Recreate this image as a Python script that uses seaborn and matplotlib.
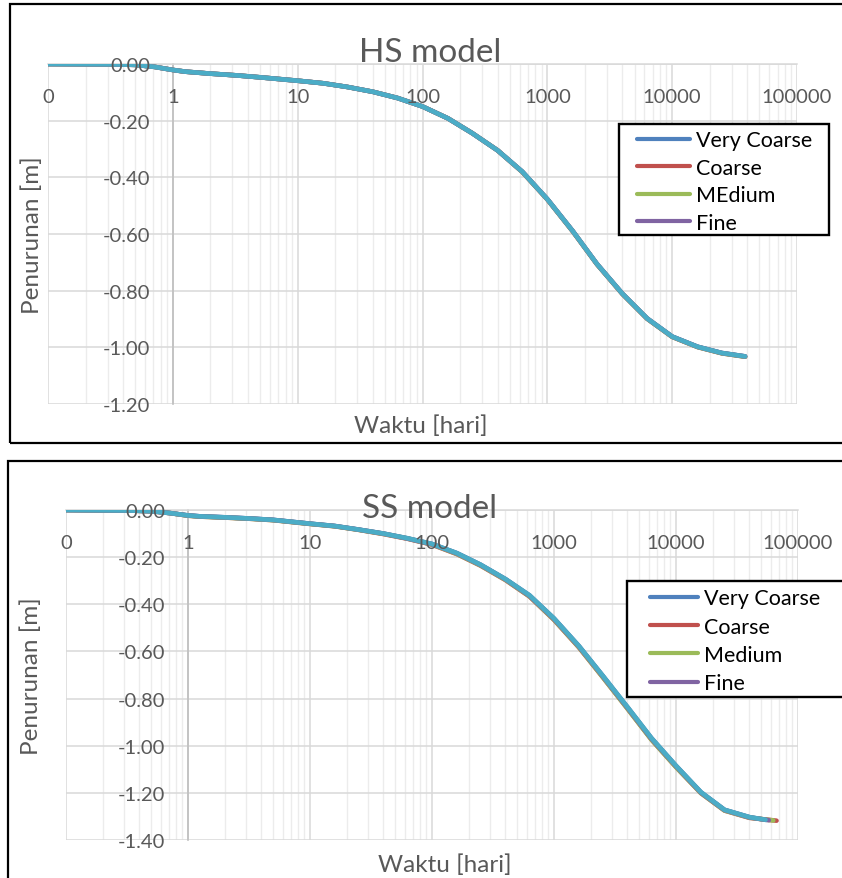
import matplotlib
matplotlib.use("Agg")
import matplotlib.pyplot as plt
import seaborn as sns
import pandas as pd
from matplotlib.lines import Line2D
from matplotlib.patches import Rectangle
from matplotlib.ticker import FixedLocator, LogLocator, NullFormatter
from matplotlib.legend_handler import HandlerLine2D

# ---------------- data ----------------
mesh_names = ["Very Coarse", "Coarse", "Medium", "Fine", "Very Fine"]
mesh_colors = ["#4F81BD", "#C0504D", "#9BBB59", "#8064A2", "#4BACC6"]
hs_legend_labels = ["Very Coarse", "Coarse", "MEdium", "Fine"]
ss_legend_labels = ["Very Coarse", "Coarse", "Medium", "Fine"]

x_tick_values = [0.1, 1, 10, 100, 1000, 10000, 100000]
x_tick_labels = ["0", "1", "10", "100", "1000", "10000", "100000"]
hs_y_ticks = [0.0, -0.2, -0.4, -0.6, -0.8, -1.0, -1.2]
hs_y_labels = ["0.00", "-0.20", "-0.40", "-0.60", "-0.80", "-1.00", "-1.20"]
ss_y_ticks = [0.0, -0.2, -0.4, -0.6, -0.8, -1.0, -1.2, -1.4]
ss_y_labels = ["0.00", "-0.20", "-0.40", "-0.60", "-0.80", "-1.00", "-1.20", "-1.40"]

# HS model: time [days], settlement [m]
hs_time = [0.1, 0.32, 0.5, 0.71, 1, 1.26, 2, 3.2, 5, 10, 16, 25, 40, 63, 100, 160, 250, 400,
           630, 1000, 1600, 2500, 4000, 6300, 10000, 16000, 25000, 38400]
hs_very_coarse = [0, -0.001, -0.003, -0.010, -0.021, -0.027, -0.034, -0.040, -0.047, -0.059,
                  -0.068, -0.081, -0.098, -0.120, -0.150, -0.192, -0.244, -0.305, -0.380, -0.477,
                  -0.590, -0.706, -0.811, -0.898, -0.962, -0.998, -1.020, -1.032]
hs_coarse = [0, -0.001, -0.003, -0.010, -0.021, -0.027, -0.034, -0.040, -0.047, -0.059,
             -0.068, -0.081, -0.098, -0.120, -0.150, -0.192, -0.244, -0.305, -0.381, -0.478,
             -0.591, -0.707, -0.812, -0.899, -0.963, -0.999, -1.021, -1.033]
hs_medium = [0, -0.001, -0.003, -0.010, -0.021, -0.027, -0.034, -0.040, -0.047, -0.059,
             -0.068, -0.081, -0.098, -0.120, -0.150, -0.192, -0.244, -0.305, -0.381, -0.478,
             -0.591, -0.707, -0.812, -0.899, -0.963, -0.999, -1.021, -1.033]
hs_fine = [0, -0.001, -0.003, -0.010, -0.021, -0.027, -0.034, -0.040, -0.047, -0.059,
           -0.068, -0.081, -0.098, -0.120, -0.150, -0.192, -0.244, -0.305, -0.380, -0.477,
           -0.590, -0.706, -0.811, -0.898, -0.962, -0.998, -1.020, -1.032]
hs_very_fine = [0, -0.001, -0.003, -0.010, -0.021, -0.027, -0.034, -0.040, -0.047, -0.059,
                -0.068, -0.081, -0.098, -0.120, -0.150, -0.192, -0.244, -0.305, -0.380, -0.477,
                -0.590, -0.706, -0.811, -0.898, -0.962, -0.998, -1.020, -1.032]

# SS model: time [days] (shared part + individual last time), settlement [m]
ss_time_base = [0.1, 0.32, 0.5, 0.71, 1, 1.26, 2, 3.2, 5, 10, 16, 25, 40, 63, 100, 160, 250, 400,
                630, 1000, 1600, 2500, 4000, 6300, 10000, 16000, 25000, 40000]
ss_end_time = [55000, 66700, 62700, 57700, 54200]
ss_very_coarse = [0, -0.002, -0.005, -0.013, -0.023, -0.027, -0.031, -0.036, -0.042, -0.058,
                  -0.068, -0.083, -0.100, -0.120, -0.144, -0.183, -0.232, -0.293, -0.362, -0.460,
                  -0.577, -0.702, -0.836, -0.968, -1.085, -1.197, -1.272, -1.303, -1.315]
ss_coarse = [0, -0.002, -0.005, -0.013, -0.024, -0.028, -0.032, -0.037, -0.043, -0.059,
             -0.069, -0.084, -0.102, -0.122, -0.147, -0.187, -0.236, -0.297, -0.367, -0.466,
             -0.583, -0.708, -0.842, -0.974, -1.090, -1.201, -1.275, -1.306, -1.318]
ss_medium = [0, -0.002, -0.005, -0.013, -0.024, -0.028, -0.032, -0.037, -0.043, -0.059,
             -0.069, -0.084, -0.101, -0.121, -0.146, -0.186, -0.235, -0.296, -0.366, -0.465,
             -0.582, -0.708, -0.843, -0.975, -1.091, -1.201, -1.275, -1.305, -1.317]
ss_fine = [0, -0.002, -0.005, -0.013, -0.023, -0.027, -0.031, -0.036, -0.042, -0.058,
           -0.068, -0.083, -0.100, -0.121, -0.145, -0.184, -0.233, -0.294, -0.364, -0.462,
           -0.579, -0.704, -0.839, -0.971, -1.087, -1.199, -1.273, -1.304, -1.316]
ss_very_fine = [0, -0.002, -0.005, -0.013, -0.023, -0.027, -0.031, -0.036, -0.042, -0.058,
                -0.068, -0.083, -0.100, -0.120, -0.144, -0.183, -0.232, -0.293, -0.362, -0.460,
                -0.577, -0.702, -0.836, -0.968, -1.085, -1.197, -1.272, -1.303, -1.314]


def build_frame(times, values):
    rows = []
    for name, t_list, v_list in zip(mesh_names, times, values):
        for t, v in zip(t_list, v_list):
            rows.append({"time": t, "settlement": v, "mesh": name})
    return pd.DataFrame(rows)


hs_df = build_frame([hs_time] * 5, [hs_very_coarse, hs_coarse, hs_medium, hs_fine, hs_very_fine])
ss_df = build_frame([ss_time_base + [e] for e in ss_end_time],
                    [ss_very_coarse, ss_coarse, ss_medium, ss_fine, ss_very_fine])

# ---------------- style ----------------
sns.set_theme(style="white")
plt.rcParams['font.family'] = ['Lato', 'DejaVu Sans']

W, H = 842, 879
fig = plt.figure(figsize=(W / 100, H / 100), dpi=100)
fig.patch.set_facecolor("white")

GRAY_TXT = "#595959"
TICK_FS = 14.5
LABEL_FS = 17.5
TITLE_FS = 24
LEG_FS = 15.5


def px_rect(l, t, r, b):
    return [l / W, 1 - b / H, (r - l) / W, (b - t) / H]


def make_panel(rect, df, ymin, yticks, ylabels, leg_labels, leg_anchor, xpad, spacing, frame_box):
    ax = fig.add_axes(rect)
    ax.set_zorder(0)
    ax.set_xscale("log")
    sns.lineplot(data=df, x="time", y="settlement", hue="mesh", hue_order=mesh_names,
                 palette=mesh_colors, estimator=None, sort=False, linewidth=3.3,
                 legend=False, ax=ax, zorder=3)
    ax.set_xlim(0.1, 100000)
    ax.set_ylim(ymin, 0)
    ax.set_xticks(x_tick_values)
    ax.xaxis.set_minor_locator(LogLocator(base=10, subs=(2, 3, 4, 5, 6, 7, 8, 9), numticks=20))
    ax.xaxis.set_minor_formatter(NullFormatter())
    ax.set_yticks(yticks)
    ax.set_axisbelow(True)
    ax.grid(True, which="major", color="#D9D9D9", linewidth=1.1)
    ax.grid(True, which="minor", axis="x", color="#ECECEC", linewidth=1.0)
    ax.tick_params(which="both", length=0, labelbottom=False, labelleft=False)
    ax.set_xlabel("")
    ax.set_ylabel("")
    for s in ("top", "right"):
        ax.spines[s].set_visible(False)
    ax.spines["left"].set_position(("data", 1))
    ax.spines["left"].set_color("#BFBFBF")
    ax.spines["left"].set_linewidth(1.2)
    ax.spines["left"].set_zorder(1)
    ax.spines["bottom"].set_position(("data", 0))
    ax.spines["bottom"].set_color("#D9D9D9")
    ax.spines["bottom"].set_linewidth(1.1)
    ax.spines["bottom"].set_zorder(1)

    # legend frame (opaque, square corners), between the curve axes and the label axes
    l, t, r, b = frame_box
    fig.patches.append(Rectangle((l / W, 1 - b / H), (r - l) / W, (b - t) / H,
                                 transform=fig.transFigure, facecolor="white",
                                 edgecolor="black", linewidth=1.7, zorder=0.5))

    # overlay axes carrying tick labels and legend (drawn above the curves)
    lab = fig.add_axes(rect)
    lab.set_zorder(1)
    lab.patch.set_visible(False)
    lab.set_xscale("log")
    lab.set_xlim(0.1, 100000)
    lab.set_ylim(ymin, 0)
    lab.set_xticks(x_tick_values, labels=x_tick_labels)
    lab.xaxis.set_minor_locator(FixedLocator([]))
    lab.set_yticks(yticks, labels=ylabels)
    lab.grid(False)
    for s in lab.spines.values():
        s.set_visible(False)
    lab.spines["left"].set_position(("data", 1))
    lab.spines["bottom"].set_position(("data", 0))
    lab.tick_params(axis="x", which="both", length=0, pad=17, labelsize=TICK_FS, labelcolor=GRAY_TXT)
    lab.tick_params(axis="y", which="both", length=0, pad=16.5, labelsize=TICK_FS, labelcolor=GRAY_TXT)

    handles = [Line2D([], [], color=c, linewidth=3.0) for c in mesh_colors[:4]]
    leg = lab.legend(handles, leg_labels, loc="upper left",
                     bbox_to_anchor=(leg_anchor[0] / W, 1 - leg_anchor[1] / H),
                     bbox_transform=fig.transFigure, borderaxespad=0,
                     fontsize=LEG_FS, frameon=False,
                     borderpad=0.15, labelspacing=spacing,
                     handlelength=3.15, handletextpad=0.28,
                     handler_map={Line2D: HandlerLine2D(xpad=xpad)})
    for tx in leg.get_texts():
        tx.set_color("black")
    return ax, lab


# outer chart borders
fig.patches.append(Rectangle((10 / W, 1 - 444 / H), 850 / W, 439 / H, transform=fig.transFigure,
                             fill=False, edgecolor="black", linewidth=1.6, zorder=2))
fig.patches.append(Rectangle((8 / W, 1 - 900 / H), 850 / W, 438 / H, transform=fig.transFigure,
                             fill=False, edgecolor="black", linewidth=1.6, zorder=2))

make_panel(px_rect(48, 65, 797, 405), hs_df, -1.2, hs_y_ticks, hs_y_labels,
           hs_legend_labels, (619, 128), 0.68, 0.35, (619, 125, 829, 236))
make_panel(px_rect(66, 511, 798, 841), ss_df, -1.4, ss_y_ticks, ss_y_labels,
           ss_legend_labels, (627, 586), 0.92, 0.39, (627, 582, 870, 698))

# titles and axis titles
fig.text(430 / W, 1 - 62 / H, "HS model", ha="center", va="baseline", fontsize=TITLE_FS, color=GRAY_TXT)
fig.text(430 / W, 1 - 518 / H, "SS model", ha="center", va="baseline", fontsize=TITLE_FS, color=GRAY_TXT)
fig.text(421 / W, 1 - 433 / H, "Waktu [hari]", ha="center", va="baseline", fontsize=LABEL_FS, color=GRAY_TXT)
fig.text(445 / W, 1 - 872 / H, "Waktu [hari]", ha="center", va="baseline", fontsize=LABEL_FS, color=GRAY_TXT)
fig.text(32 / W, 1 - 235 / H, "Penurunan [m]", ha="center", va="center", rotation=90,
         fontsize=LABEL_FS, color=GRAY_TXT)
fig.text(31 / W, 1 - 676 / H, "Penurunan [m]", ha="center", va="center", rotation=90,
         fontsize=LABEL_FS, color=GRAY_TXT)

fig.savefig("out.png", dpi=100)
